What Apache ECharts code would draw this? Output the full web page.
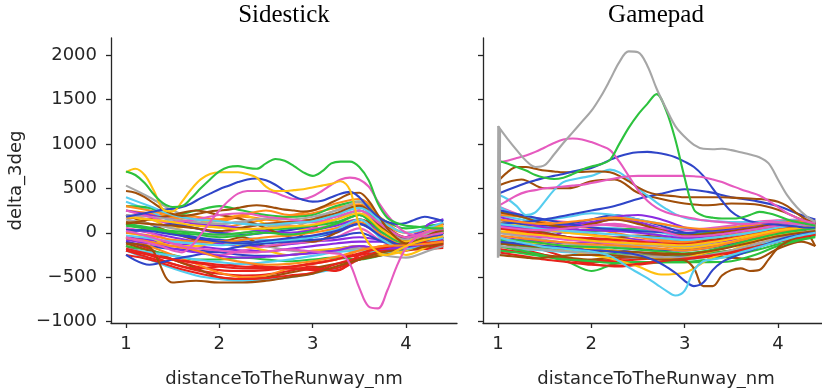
<!DOCTYPE html>
<html>
<head>
<meta charset="utf-8">
<script src="https://cdn.jsdelivr.net/npm/echarts@6/dist/echarts.min.js"></script>
<style>
  html, body { margin: 0; padding: 0; background: #fff; }
  #chart { width: 822px; height: 388px; }
</style>
</head>
<body>
<div id="chart"></div>
<script>
// x grids (nm)
const distFine = [1.0, 1.1, 1.2, 1.3, 1.4, 1.5, 1.6, 1.7, 1.8, 1.9, 2.0, 2.1, 2.2, 2.3, 2.4, 2.5, 2.6, 2.7, 2.8, 2.9,
  3.0, 3.1, 3.2, 3.3, 3.4, 3.5, 3.6, 3.7, 3.8, 3.9, 4.0, 4.1, 4.2, 4.3, 4.4];
const distCoarse = [1.0, 1.25, 1.5, 1.75, 2.0, 2.25, 2.5, 2.75, 3.0, 3.25, 3.5, 3.75, 4.0, 4.25, 4.4];

const xTicks = [1, 2, 3, 4];
const yTicks = [-1000, -500, 0, 500, 1000, 1500, 2000];
const panelTitles = ["Sidestick", "Gamepad"];

// ---- Sidestick: lines that stand out (fine grid)
const sideGreenTop = [690, 650, 560, 430, 330, 290, 300, 390, 500, 600, 690, 740, 750, 730, 720, 780, 830, 810, 750, 680,
  640, 690, 780, 800, 800, 740, 590, 330, 170, 110, 80, 70, 60, 50, 50];
const sideYellowTop = [680, 720, 650, 470, 260, 240, 350, 490, 600, 660, 680, 680, 680, 660, 620, 520, 470, 470, 480, 490,
  510, 530, 550, 580, 480, 80, -120, -220, -250, -200, -150, -110, -80, -60, -40];
const sideBlueTop = [180, 200, 220, 240, 260, 270, 290, 330, 390, 440, 490, 530, 570, 600, 610, 590, 540, 470, 410, 370,
  350, 360, 400, 440, 460, 400, 280, 180, 120, 100, 110, 150, 180, 160, 130];
const sidePinkPeak = [-50, -80, -100, -130, -160, -200, -220, -150, -20, 120, 250, 360, 440, 470, 470, 470, 450, 410, 380, 380,
  410, 470, 540, 600, 620, 600, 520, 350, 200, 80, 0, -30, -40, -20, 0];
const sidePinkDip = [20, 0, -30, -60, -90, -120, -150, -170, -180, -190, -200, -210, -220, -220, -220, -210, -200, -190, -190, -200,
  -210, -220, -230, -240, -350, -620, -830, -850, -650, -380, -170, -60, 0, 30, 40];
const sideBrownHump = [470, 450, 400, 330, 260, 210, 190, 200, 220, 240, 250, 260, 280, 300, 310, 300, 280, 260, 250, 240,
  250, 290, 340, 390, 440, 450, 360, 200, 50, -60, -120, -100, -50, 0, 30];

// ---- Sidestick: the bundle (coarse grid)
const sideBulk = [
  [-100, -180, -300, -380, -420, -430, -420, -390, -340, -300, -250, -200, -180, -160, -150],
  [-150, -250, -350, -420, -460, -480, -470, -430, -380, -420, -300, -250, -200, -180, -170],
  [250, 220, 180, 150, 130, 180, 150, 120, 150, 200, 300, 50, -50, 0, 30],
  [150, 200, 170, 100, 60, 100, 150, 180, 220, 280, 320, 100, 0, 50, 80],
  [530, 400, 250, 150, 100, 120, 80, 60, 150, 250, 300, -50, -150, -50, 0],
  [-50, -100, -150, -100, -80, -120, -150, -200, -220, -200, -180, -250, -280, -200, -150],
  [350, 250, 120, 50, 0, -50, -80, -100, -50, 50, 150, 0, -100, -50, 0],
  [-200, -300, -400, -480, -520, -540, -530, -500, -460, -400, -300, -200, -150, -100, -80],
  [50, 0, -50, -100, -120, -150, -150, -130, -100, -80, -50, -80, -50, 50, 100],
  [-50, -80, -120, -150, -180, -200, -210, -180, -150, -120, -100, -100, -50, 0, 50],
  [100, 50, 0, -50, -80, -100, -100, -80, -50, 0, 100, -50, -100, 100, 150],
  [-100, -150, -180, -200, -220, -250, -260, -250, -220, -180, -150, -200, -180, -100, -50],
  [300, 280, 200, 250, 300, 250, 200, 180, 200, 300, 350, 150, 50, 80, 100],
  [-150, -200, -250, -300, -300, -280, -300, -320, -300, -280, -300, -250, -150, -100, -80],
  [200, 100, 0, -80, -100, -50, -150, -100, 50, 200, 300, 100, -50, 0, 20],
  [-120, -200, -300, -400, -500, -520, -500, -450, -400, -350, -300, -250, -200, -150, -120],
  [50, 0, -100, -200, -250, -200, -150, -120, -100, -50, 50, -100, -150, -50, 0],
  [200, 150, 100, 50, 0, 50, 100, 80, 50, 100, 200, 50, -100, 0, 50],
  [0, -50, -150, -150, -100, -150, -200, -250, -200, -180, -150, -250, -200, -100, -50],
  [100, 150, 50, 100, 150, 200, 100, 50, 30, 100, 150, -50, -250, -150, -100],
  [-200, -280, -350, -400, -380, -350, -380, -400, -420, -400, -300, -200, -150, -130, -120],
  [-50, -150, -250, -350, -450, -500, -480, -400, -350, -300, -200, -150, -100, -80, -60],
  [0, 50, 100, 50, 0, -20, 0, 30, 80, 150, 250, 50, -80, 50, 100],
  [150, 100, 50, 0, -30, 0, 50, 100, 120, 150, 250, 0, -120, -20, 30],
  [-180, -220, -260, -300, -330, -350, -330, -300, -260, -220, -200, -220, -180, -120, -100],
  [100, 60, 20, 0, -20, 0, 30, 50, 80, 120, 200, -50, -150, -50, 0],
  [-250, -300, -380, -450, -500, -520, -510, -480, -450, -350, -280, -200, -160, -140, -130],
  [250, 200, 150, 100, 80, 50, 20, 0, 30, 80, 150, 0, -100, 100, 150],
  [100, 150, 200, 250, 200, 150, 50, -50, -100, 0, 150, 50, -50, 0, 20],
  [0, -30, -80, -100, -100, -80, -50, -30, 0, 50, 120, -30, -150, -80, -50],
  [-250, -360, -300, -250, -200, -150, -120, -100, -80, -50, 0, -100, -150, -80, -50],
  [-200, -250, -300, -330, -360, -380, -390, -400, -400, -430, -250, -150, -120, -100, -90],
  [-120, -160, -560, -540, -560, -560, -540, -500, -460, -380, -300, -220, -180, -150, -120],
  [300, 250, 200, 180, 150, 200, 250, 200, 250, 330, 380, 150, 0, 50, 100],
  [200, 180, 150, 120, 100, 130, 160, 150, 180, 250, 350, 80, -80, 0, 50],
  [120, 100, 80, 50, 20, 60, 100, 120, 150, 220, 300, 50, -100, -50, 0],
  [-30, -60, -100, -120, -140, -120, -100, -80, -50, 30, 150, -80, -180, -100, -60],
  [80, 40, 0, -20, -50, -30, 0, -20, 20, 100, 200, 0, -120, -30, 20],
  [-80, -120, -180, -220, -260, -280, -270, -250, -230, -200, -150, -180, -160, -120, -80],
  [250, 180, 120, 150, 200, 220, 180, 150, 120, 180, 250, 80, -50, 20, 60],
  [-180, -240, -300, -340, -380, -400, -400, -380, -350, -300, -230, -170, -130, -110, -100],
  [30, 20, -20, -60, -100, -120, -90, -60, -30, 20, 100, -50, -150, -60, -20],
  [180, 150, 120, 80, 60, 40, 50, 70, 90, 150, 220, 30, -100, 30, 80],
  [-60, -100, -150, -200, -280, -330, -360, -350, -320, -270, -200, -150, -140, -120, -100],
  [400, 300, 200, 150, 130, 100, 90, 110, 130, 200, 280, 120, 0, 60, 120]
];
const sideBulkColors = ["red", "red", "orange", "orange", "gray", "gray", "cyan", "cyan", "purple", "purple",
  "blue", "blue", "green", "green", "brown", "brown", "pink", "pink", "yellow", "yellow",
  "red", "orange", "blue", "gray", "cyan", "green", "red", "purple", "brown", "orange", "blue", "red", "brown",
  "orange", "gray", "brown", "cyan", "green", "purple", "pink", "red", "blue", "yellow", "orange", "cyan"];

// ---- Gamepad: lines that stand out (fine grid)
const padGrayBig = [1200, 1060, 930, 810, 740, 760, 880, 1010, 1130, 1250, 1370, 1530, 1720, 1920, 2040, 2030, 1880, 1620, 1400, 1200,
  1080, 990, 945, 940, 945, 930, 905, 880, 850, 780, 600, 420, 290, 190, 120];
const padGreenBig = [810, 780, 740, 700, 650, 620, 605, 620, 660, 710, 745, 770, 820, 1000, 1180, 1330, 1450, 1560, 1380, 1050,
  620, 260, 190, 170, 160, 160, 170, 200, 235, 220, 190, 150, 120, 100, 80];
const padPinkTop = [790, 810, 840, 870, 910, 960, 1010, 1050, 1060, 1050, 1020, 980, 930, 800, 640, 480, 360, 280, 230, 200,
  180, 160, 140, 130, 120, 110, 100, 100, 110, 120, 120, 110, 100, 90, 80];
const padPinkFlat = [300, 360, 420, 460, 480, 500, 510, 520, 530, 540, 560, 580, 600, 620, 635, 640, 640, 640, 640, 640,
  640, 635, 625, 600, 570, 530, 490, 455, 420, 360, 290, 220, 170, 130, 110];
const padBlueTop = [440, 480, 520, 560, 590, 620, 640, 660, 690, 710, 730, 770, 820, 860, 890, 905, 910, 900, 880, 850,
  800, 740, 640, 500, 360, 240, 170, 130, 110, 100, 90, 80, 70, 60, 60];
const padBrownTop = [580, 680, 740, 740, 720, 700, 690, 680, 680, 685, 690, 690, 680, 640, 580, 510, 460, 430, 420, 410,
  400, 400, 400, 400, 400, 395, 390, 385, 380, 370, 350, 300, 220, 150, 100];
const padCyanTop = [430, 380, 300, 200, 230, 350, 480, 570, 600, 620, 640, 680, 710, 680, 600, 500, 420, 340, 270, 210,
  170, 150, 140, 130, 125, 120, 120, 120, 120, 120, 120, 110, 100, 90, 80];
const padCyanDip = [-50, -80, -100, -120, -140, -160, -170, -180, -190, -200, -210, -230, -260, -320, -390, -450, -510, -580, -650, -705,
  -650, -420, -320, -300, -280, -250, -220, -190, -160, -130, -100, -70, -40, -20, 0];
const padBlueDip = [-100, -110, -120, -130, -140, -150, -160, -170, -180, -190, -200, -200, -210, -220, -230, -250, -280, -320, -380, -450,
  -540, -600, -560, -420, -330, -280, -240, -200, -160, -120, -80, -50, -30, -10, 0];
const padBrownDip = [-250, -260, -270, -280, -290, -280, -270, -260, -250, -250, -250, -250, -250, -260, -270, -280, -290, -300, -300, -300,
  -310, -400, -600, -600, -480, -420, -400, -430, -420, -300, -170, -100, -50, -20, 0];
// the grey trace that shoots up and down right at 1 nm
const padSpikeDist = [1.0, 1.004, 1.008, 1.012, 1.016, 1.02, 1.03];
const padSpikeDelta = [-280, 1200, -260, 1180, -240, 1160, 1140];

// ---- Gamepad: the bundle (coarse grid)
const padBulk = [
  [-100, -180, -250, -300, -330, -320, -300, -280, -250, -230, -200, -150, -100, -50, -30],
  [-50, -120, -200, -280, -320, -300, -280, -270, -300, -260, -200, -130, -80, -40, -20],
  [150, 100, 50, 0, -20, -50, -80, -100, -120, -100, -50, 0, 50, 80, 100],
  [50, 0, -30, -50, -80, -100, -130, -150, -180, -150, -100, -50, 0, 30, 50],
  [-250, -200, -180, -150, -130, -120, -150, -180, -200, -170, -130, -80, -30, 0, 20],
  [100, 50, 20, 0, 30, 50, 20, -30, -80, -60, -20, 20, 60, 80, 90],
  [200, 150, 100, 80, 60, 50, 30, 0, -50, -30, 20, 60, 90, 110, 120],
  [-150, -180, -200, -220, -250, -270, -280, -290, -300, -270, -220, -150, -80, -20, 10],
  [0, -30, -50, 30, 100, 150, 120, 50, -20, 0, 30, 50, 60, 70, 80],
  [-50, -80, -100, -120, -100, -50, -80, -120, -150, -120, -80, -20, 30, 50, 60],
  [50, 30, 0, -50, -100, -150, -180, -200, -200, -170, -120, -50, 20, 60, 80],
  [-100, -130, -150, -160, -180, -200, -220, -250, -260, -220, -150, -80, -30, 10, 30],
  [250, 180, 100, 50, 20, 30, 50, 20, -20, 0, 50, 100, 130, 120, 110],
  [-120, -150, -180, -200, -220, -240, -250, -260, -250, -230, -200, -160, -100, -50, -20],
  [100, 50, 0, -50, -80, -60, -30, -50, -100, -80, -50, 0, 50, 80, 100],
  [-200, -220, -250, -280, -300, -280, -260, -250, -240, -260, -280, -300, -180, -100, -150],
  [300, 200, 150, 120, 100, 80, 60, 50, 30, 50, 80, 120, 140, 150, 150],
  [0, -20, -50, -80, -100, -120, -100, -80, -60, -40, 0, 40, 70, 90, 100],
  [-80, -100, -120, -150, -180, -200, -250, -300, -280, -220, -150, -80, -20, 20, 40],
  [120, 80, 40, 0, -30, -60, -100, -140, -170, -140, -100, -40, 10, 40, 60],
  [-180, -220, -260, -300, -350, -380, -360, -330, -300, -270, -230, -170, -100, -50, -20],
  [200, 180, 120, 80, 50, 0, -50, -80, -100, -60, -20, 30, 70, 90, 100],
  [150, 100, 80, 100, 150, 200, 150, 80, 0, -30, 0, 50, 100, 120, 130],
  [0, -40, -80, -120, -150, -160, -150, -140, -150, -120, -60, 0, 40, 60, 70],
  [300, 180, 150, 180, 220, 200, 150, 100, 50, 40, 60, 100, 130, 140, 140],
  [-200, -230, -270, -300, -320, -340, -330, -330, -330, -300, -260, -200, -130, -70, -40],
  [80, 60, 50, 80, 120, 180, 200, 150, 60, 20, 40, 80, 100, 110, 120],
  [230, 180, 100, 60, 100, 150, 100, 30, -30, -10, 20, 60, 100, 60, -150],
  [530, 600, 500, 500, 580, 600, 450, 380, 330, 310, 330, 320, 260, 150, 100],
  [-150, -200, -260, -330, -430, -350, -330, -330, -330, -330, -320, -250, -150, -80, -50],
  [100, 120, 150, 200, 250, 300, 380, 440, 490, 460, 400, 360, 300, 200, 150],
  [-50, -100, -150, -200, -250, -300, -380, -470, -450, -300, -200, -100, -50, 0, 20],
  [50, 20, -20, -50, -60, -80, -100, -120, -130, -100, -60, -10, 40, 70, 90],
  [-30, -60, -90, -110, -130, -140, -160, -180, -200, -170, -110, -50, 10, 50, 70],
  [180, 120, 60, 40, 30, 20, 0, -30, -60, -40, 0, 40, 80, 100, 110],
  [-150, -170, -190, -210, -230, -250, -260, -270, -280, -250, -200, -130, -60, 0, 30],
  [100, 70, 40, 20, 0, -20, -40, -60, -80, -60, -30, 10, 60, 90, 100],
  [-80, -90, -120, -150, -160, -170, -190, -210, -230, -200, -140, -70, -10, 30, 50],
  [20, -10, -30, -60, -90, -110, -120, -130, -140, -110, -70, -20, 30, 60, 80],
  [260, 200, 150, 100, 60, 40, 20, 10, 0, 20, 50, 90, 120, 130, 130],
  [-220, -260, -300, -330, -360, -370, -350, -320, -290, -260, -220, -160, -100, -50, -20],
  [70, 40, 30, 50, 80, 100, 60, 20, -40, -30, 0, 40, 80, 100, 110],
  [-120, -140, -160, -180, -200, -210, -220, -230, -240, -210, -160, -100, -40, 0, 20],
  [150, 120, 100, 120, 150, 170, 140, 100, 60, 40, 60, 90, 120, 130, 130]
];
const padBulkColors = ["red", "red", "orange", "orange", "gray", "gray", "cyan", "cyan", "purple", "purple",
  "blue", "blue", "green", "green", "brown", "brown", "pink", "pink", "yellow", "yellow",
  "red", "orange", "blue", "gray", "cyan", "green", "purple", "brown", "brown", "green", "blue", "yellow",
  "red", "orange", "purple", "gray", "cyan", "green", "yellow", "blue", "red", "pink", "brown", "orange"];

const palette = {
  blue: "#2f45c8", orange: "#ff8a1c", green: "#2cc23e", red: "#e8221b", purple: "#8a2be2",
  brown: "#a04e0a", pink: "#e65abf", gray: "#a6a6a6", yellow: "#ffc010", cyan: "#55cdef"
};

const ink = "#262626";
const tickFont = "DejaVu Sans";

const chart = echarts.init(document.getElementById("chart"), null, { renderer: "canvas" });

function lineSeries(panel, xs, ys, colorName, width) {
  const color = palette[colorName];
  return {
    type: "line",
    xAxisIndex: panel,
    yAxisIndex: panel,
    data: xs.map((x, i) => [x, ys[i]]),
    symbol: "none",
    smooth: 0.35,
    silent: true,
    clip: true,
    lineStyle: { width: width || 2.1, color: color },
    itemStyle: { color: color }
  };
}

const series = [];
sideBulk.forEach((ys, i) => series.push(lineSeries(0, distCoarse, ys, sideBulkColors[i])));
series.push(lineSeries(0, distFine, sideBrownHump, "brown"));
series.push(lineSeries(0, distFine, sidePinkDip, "pink"));
series.push(lineSeries(0, distFine, sidePinkPeak, "pink"));
series.push(lineSeries(0, distFine, sideBlueTop, "blue"));
series.push(lineSeries(0, distFine, sideYellowTop, "yellow"));
series.push(lineSeries(0, distFine, sideGreenTop, "green"));

padBulk.forEach((ys, i) => series.push(lineSeries(1, distCoarse, ys, padBulkColors[i])));
series.push(lineSeries(1, distFine, padBrownDip, "brown"));
series.push(lineSeries(1, distFine, padBlueDip, "blue"));
series.push(lineSeries(1, distFine, padCyanDip, "cyan"));
series.push(lineSeries(1, distFine, padCyanTop, "cyan"));
series.push(lineSeries(1, distFine, padBrownTop, "brown"));
series.push(lineSeries(1, distFine, padBlueTop, "blue"));
series.push(lineSeries(1, distFine, padPinkFlat, "pink"));
series.push(lineSeries(1, distFine, padPinkTop, "pink"));
series.push(lineSeries(1, distFine, padGreenBig, "green"));
series.push(lineSeries(1, distFine, padGrayBig, "gray"));
series.push(Object.assign(lineSeries(1, padSpikeDist, padSpikeDelta, "gray", 2.4), { smooth: false }));

function xAxisFor(panel) {
  return {
    type: "value",
    gridIndex: panel,
    min: 0.839,
    max: 4.547,
    name: "distanceToTheRunway_nm",
    nameLocation: "middle",
    nameGap: 47,
    nameTextStyle: { fontFamily: tickFont, fontSize: 18, color: ink },
    axisLine: { show: true, onZero: false, lineStyle: { color: ink, width: 1.3 } },
    axisTick: { show: true, length: 5, customValues: xTicks, lineStyle: { color: ink, width: 1.3 } },
    axisLabel: { customValues: xTicks, margin: 12, fontFamily: tickFont, fontSize: 18, color: ink },
    splitLine: { show: false }
  };
}

function yAxisFor(panel) {
  return {
    type: "value",
    gridIndex: panel,
    min: -1015,
    max: 2191,
    name: panel === 0 ? "delta_3deg" : "",
    nameLocation: "middle",
    nameGap: 86,
    nameTextStyle: { fontFamily: tickFont, fontSize: 18, color: ink },
    axisLine: { show: true, onZero: false, lineStyle: { color: ink, width: 1.3 } },
    axisTick: { show: true, length: 5, customValues: yTicks, lineStyle: { color: ink, width: 1.3 } },
    axisLabel: {
      show: panel === 0,
      customValues: yTicks,
      margin: 14,
      fontFamily: tickFont,
      fontSize: 18,
      color: ink,
      formatter: (v) => (v < 0 ? "\u2212" + Math.abs(v) : String(v))
    },
    splitLine: { show: false }
  };
}

chart.setOption({
  animation: false,
  backgroundColor: "#ffffff",
  grid: [
    { left: 111, top: 38, width: 346, height: 285, outerBoundsMode: "none" },
    { left: 483, top: 38, width: 346, height: 285, outerBoundsMode: "none" }
  ],
  xAxis: [xAxisFor(0), xAxisFor(1)],
  yAxis: [yAxisFor(0), yAxisFor(1)],
  graphic: [
    { type: "text", x: 284, y: 3, style: { text: panelTitles[0], font: '25px "Liberation Serif"', fill: "#000", align: "center", verticalAlign: "top" } },
    { type: "text", x: 656, y: 3, style: { text: panelTitles[1], font: '25px "Liberation Serif"', fill: "#000", align: "center", verticalAlign: "top" } }
  ],
  series: series
});
</script>
</body>
</html>
